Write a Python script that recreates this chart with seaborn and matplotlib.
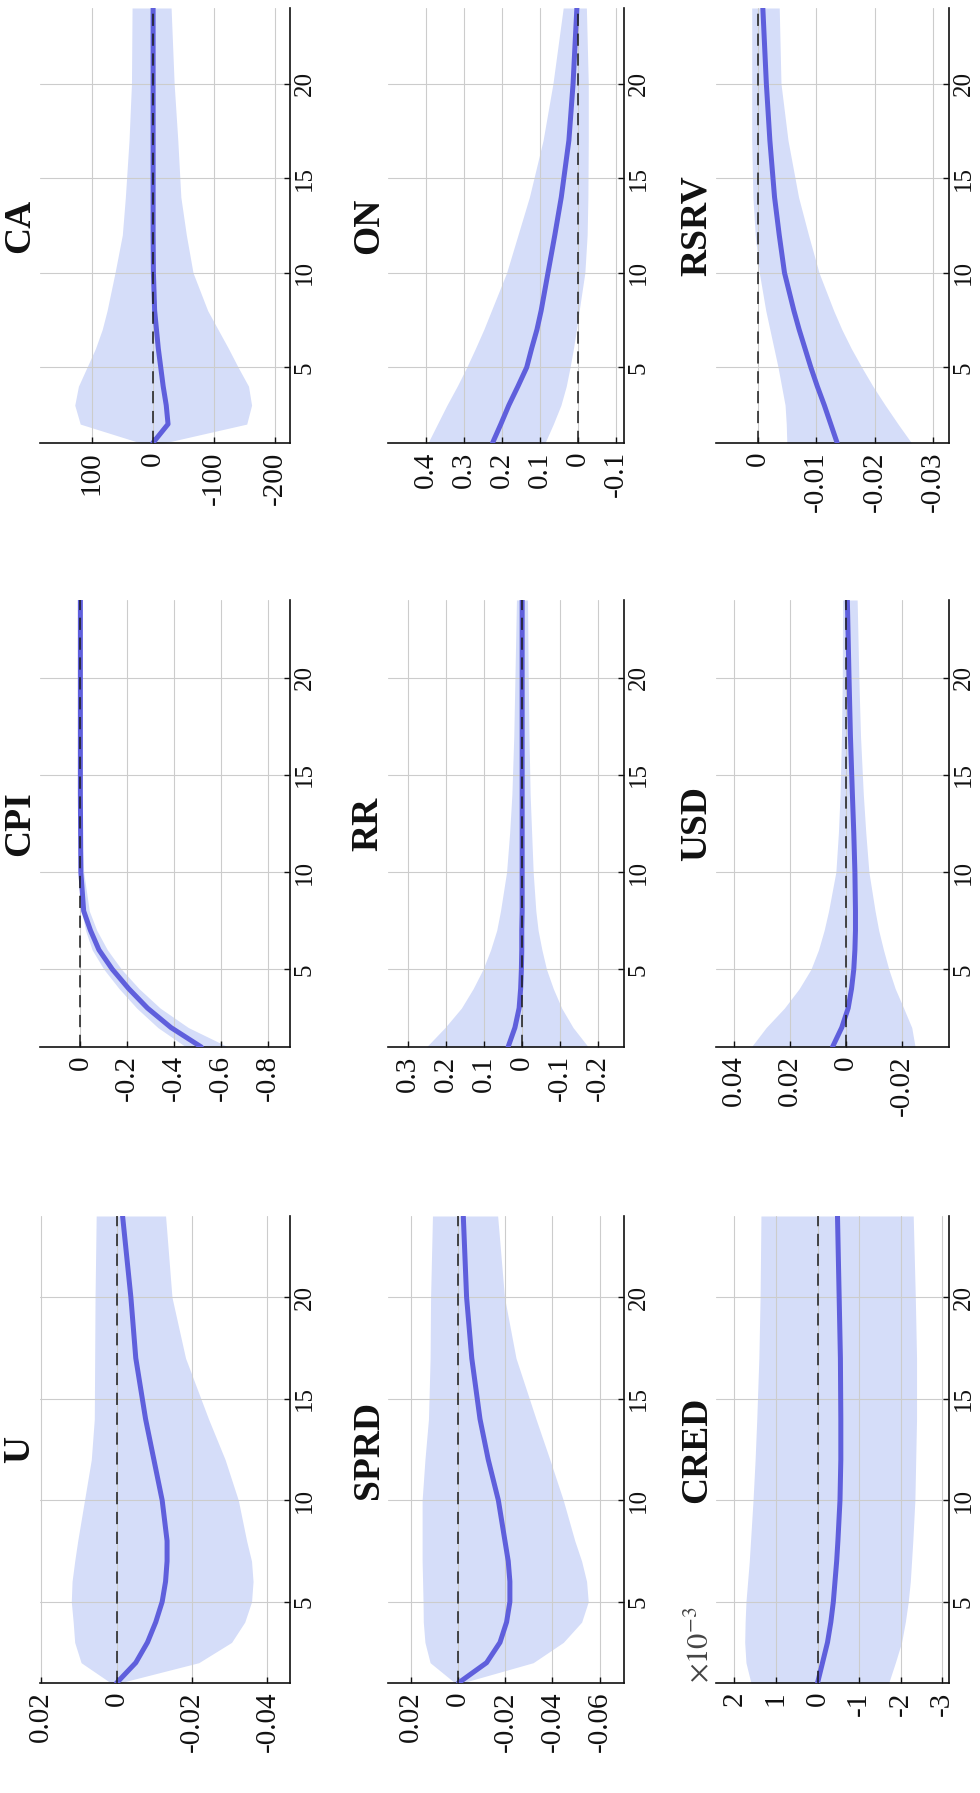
import matplotlib
matplotlib.use("Agg")
import matplotlib.pyplot as plt
import seaborn as sns

horizon = [1, 2, 3, 4, 5, 6, 7, 8, 10, 12, 14, 17, 20, 24]

# median response, lower and upper band for every variable
ca_mid = [0, -25, -22, -17, -13, -9, -6, -3, -1, -0.5, -0.5, -0.5, -0.5, -0.5]
ca_lo = [-18, -154, -162, -157, -140, -124, -107, -90, -66, -55, -46, -41, -35, -30]
ca_hi = [20, 119, 128, 122, 108, 94, 83, 75, 62, 50, 45, 39, 35, 34]

on_mid = [0.225, 0.203, 0.182, 0.158, 0.135, 0.122, 0.108, 0.097, 0.079, 0.061, 0.044, 0.024, 0.013, 0.003]
on_lo = [0.087, 0.065, 0.045, 0.031, 0.021, 0.012, 0.004, -0.003, -0.018, -0.024, -0.026, -0.027, -0.027, -0.022]
on_hi = [0.395, 0.37, 0.345, 0.318, 0.293, 0.27, 0.248, 0.228, 0.188, 0.158, 0.128, 0.092, 0.066, 0.039]

rsrv_mid = [-0.0136, -0.0125, -0.0114, -0.0102, -0.0091, -0.0081, -0.0071, -0.0062, -0.0046, -0.0037, -0.0029, -0.0021, -0.0015, -0.0009]
rsrv_lo = [-0.0263, -0.0240, -0.0218, -0.0197, -0.0178, -0.0160, -0.0144, -0.0130, -0.0105, -0.0087, -0.0070, -0.0052, -0.0040, -0.0037]
rsrv_hi = [-0.0050, -0.0049, -0.0047, -0.0041, -0.0035, -0.0028, -0.0021, -0.0014, -0.0003, 0.0004, 0.0008, 0.0010, 0.0010, 0.0010]

cpi_mid = [-0.515, -0.386, -0.286, -0.206, -0.136, -0.079, -0.043, -0.014, -0.002, -0.001, 0, 0, 0, 0]
cpi_lo = [-0.63, -0.46, -0.34, -0.25, -0.175, -0.115, -0.07, -0.038, -0.014, -0.005, -0.003, -0.002, -0.001, -0.001]
cpi_hi = [-0.45, -0.33, -0.24, -0.165, -0.10, -0.05, -0.022, -0.005, 0.002, 0.002, 0.001, 0.001, 0.001, 0.001]

rr_mid = [0.037, 0.019, 0.008, 0.004, 0.002, 0.001, 0.001, 0, 0, 0, 0, 0, 0, 0]
rr_lo = [-0.174, -0.134, -0.104, -0.082, -0.064, -0.052, -0.042, -0.036, -0.029, -0.025, -0.021, -0.018, -0.016, -0.014]
rr_hi = [0.252, 0.203, 0.16, 0.129, 0.103, 0.083, 0.067, 0.057, 0.041, 0.033, 0.027, 0.022, 0.019, 0.015]

usd_mid = [0.0047, 0.0014, -0.0009, -0.0021, -0.0029, -0.0033, -0.0035, -0.0035, -0.0033, -0.0029, -0.0024, -0.0017, -0.0012, -0.0006]
usd_lo = [-0.0248, -0.0236, -0.0207, -0.0177, -0.0154, -0.0135, -0.0118, -0.0105, -0.0083, -0.0072, -0.0063, -0.0053, -0.0047, -0.0041]
usd_hi = [0.0337, 0.0284, 0.0219, 0.0166, 0.0124, 0.0097, 0.0077, 0.0061, 0.0035, 0.0026, 0.0020, 0.0015, 0.0012, 0.0011]

u_mid = [0, -0.0051, -0.0082, -0.0104, -0.0121, -0.0130, -0.0134, -0.0134, -0.0121, -0.0099, -0.0077, -0.0051, -0.0038, -0.0016]
u_lo = [-0.0007, -0.0218, -0.0305, -0.0340, -0.0358, -0.0362, -0.0358, -0.0345, -0.0323, -0.0288, -0.0244, -0.0183, -0.0147, -0.0130]
u_hi = [0.0015, 0.0094, 0.0111, 0.0115, 0.0120, 0.0118, 0.0111, 0.0103, 0.0085, 0.0067, 0.0059, 0.0058, 0.0057, 0.0054]

sprd_mid = [0, -0.0120, -0.0177, -0.0205, -0.0219, -0.0219, -0.0212, -0.0198, -0.0170, -0.0127, -0.0092, -0.0057, -0.0035, -0.0021]
sprd_lo = [-0.0014, -0.0318, -0.0446, -0.0524, -0.0552, -0.0545, -0.0524, -0.0495, -0.0446, -0.0389, -0.0330, -0.0245, -0.0196, -0.0167]
sprd_hi = [0.0014, 0.0120, 0.0142, 0.0149, 0.0150, 0.0152, 0.0154, 0.0154, 0.0154, 0.0142, 0.0127, 0.0120, 0.0118, 0.0110]

# CRED in units of 1e-3
cred_mid = [0, -0.12, -0.24, -0.32, -0.38, -0.42, -0.46, -0.49, -0.54, -0.56, -0.56, -0.55, -0.52, -0.48]
cred_lo = [-1.71, -1.87, -2.02, -2.11, -2.18, -2.23, -2.26, -2.29, -2.34, -2.36, -2.38, -2.38, -2.35, -2.30]
cred_hi = [1.60, 1.72, 1.75, 1.74, 1.72, 1.68, 1.64, 1.61, 1.55, 1.50, 1.46, 1.41, 1.38, 1.36]

names = ["CA", "ON", "RSRV", "CPI", "RR", "USD", "U", "SPRD", "CRED"]
mids = [ca_mid, on_mid, rsrv_mid, cpi_mid, rr_mid, usd_mid, u_mid, sprd_mid, cred_mid]
lows = [ca_lo, on_lo, rsrv_lo, cpi_lo, rr_lo, usd_lo, u_lo, sprd_lo, cred_lo]
highs = [ca_hi, on_hi, rsrv_hi, cpi_hi, rr_hi, usd_hi, u_hi, sprd_hi, cred_hi]
value_ticks = [
    [100, 0, -100, -200],
    [0.4, 0.3, 0.2, 0.1, 0, -0.1],
    [0, -0.01, -0.02, -0.03],
    [0, -0.2, -0.4, -0.6, -0.8],
    [0.3, 0.2, 0.1, 0, -0.1, -0.2],
    [0.04, 0.02, 0, -0.02],
    [0.02, 0, -0.02, -0.04],
    [0.02, 0, -0.02, -0.04, -0.06],
    [2, 1, 0, -1, -2, -3],
]
horizon_ticks = [5, 10, 15, 20]

# value limits (left edge, right edge) - the figure is turned on its side
value_lims = [(185, -225), (0.5, -0.121), (0.0071, -0.0327),
              (0.172, -0.893), (0.353, -0.268), (0.0463, -0.0369),
              (0.0203, -0.046), (0.0299, -0.0704), (2.44, -3.16)]

W, H = 980, 1793
col_px = [(40, 290), (388, 624), (716, 949)]
row_px = [(8, 443), (600, 1047), (1216, 1683)]

band_col = "#d5ddf9"
line_col = "#5f5fdc"

sns.set_theme(style="white")
plt.rcParams["font.family"] = ["Liberation Serif", "DejaVu Serif"]
plt.rcParams["mathtext.fontset"] = "stix"
plt.rcParams["axes.unicode_minus"] = False

fig = plt.figure(figsize=(W / 100, H / 100), dpi=100)

for i, name in enumerate(names):
    r, c = divmod(i, 3)
    x0, x1 = col_px[c]
    y0, y1 = row_px[r]
    ax = fig.add_axes([x0 / W, 1 - y1 / H, (x1 - x0) / W, (y1 - y0) / H])
    ax.set_facecolor("white")

    ax.fill_betweenx(horizon, lows[i], highs[i], color=band_col, lw=0, zorder=1)
    sns.lineplot(x=mids[i], y=horizon, orient="y", sort=False, color=line_col,
                 lw=3.6, ax=ax, zorder=3)
    ax.axvline(0, color="#1a1a1a", lw=1.1, ls=(0, (8, 5)), zorder=4)

    ax.set_xlim(*value_lims[i])
    ax.set_ylim(1, 24)

    vt = value_ticks[i]
    ax.set_xticks(vt, labels=[f"{v:g}" for v in vt])
    ax.set_yticks(horizon_ticks, labels=[str(v) for v in horizon_ticks])
    ax.yaxis.tick_right()
    ax.tick_params(axis="x", labelrotation=90, labelsize=21, direction="in",
                   length=4, width=1, pad=6, bottom=True, colors="#111111")
    ax.tick_params(axis="y", labelrotation=90, labelsize=18, direction="in",
                   length=4, width=1, pad=2.5, right=True, left=False, colors="#111111")
    for lab in ax.get_yticklabels():
        lab.set_va("center")
    ax.set_xlabel("")
    ax.set_ylabel("")

    ax.grid(True, color="#cccccc", lw=0.8)
    ax.set_axisbelow(False)
    for s in ["top", "left"]:
        ax.spines[s].set_visible(False)
    for s in ["bottom", "right"]:
        ax.spines[s].set_color("#111111")
        ax.spines[s].set_linewidth(1.2)

    ax.text(-0.01, 0.5, name, transform=ax.transAxes, rotation=90,
            ha="right", va="center", fontsize=27, fontweight="bold", color="#111111")
    if name == "CRED":
        ax.text(-0.005, 0.0, r"$\times10^{-3}$", transform=ax.transAxes, rotation=90,
                ha="right", va="bottom", fontsize=22, color="#444444")

fig.savefig("out.png", dpi=100, facecolor="white")
